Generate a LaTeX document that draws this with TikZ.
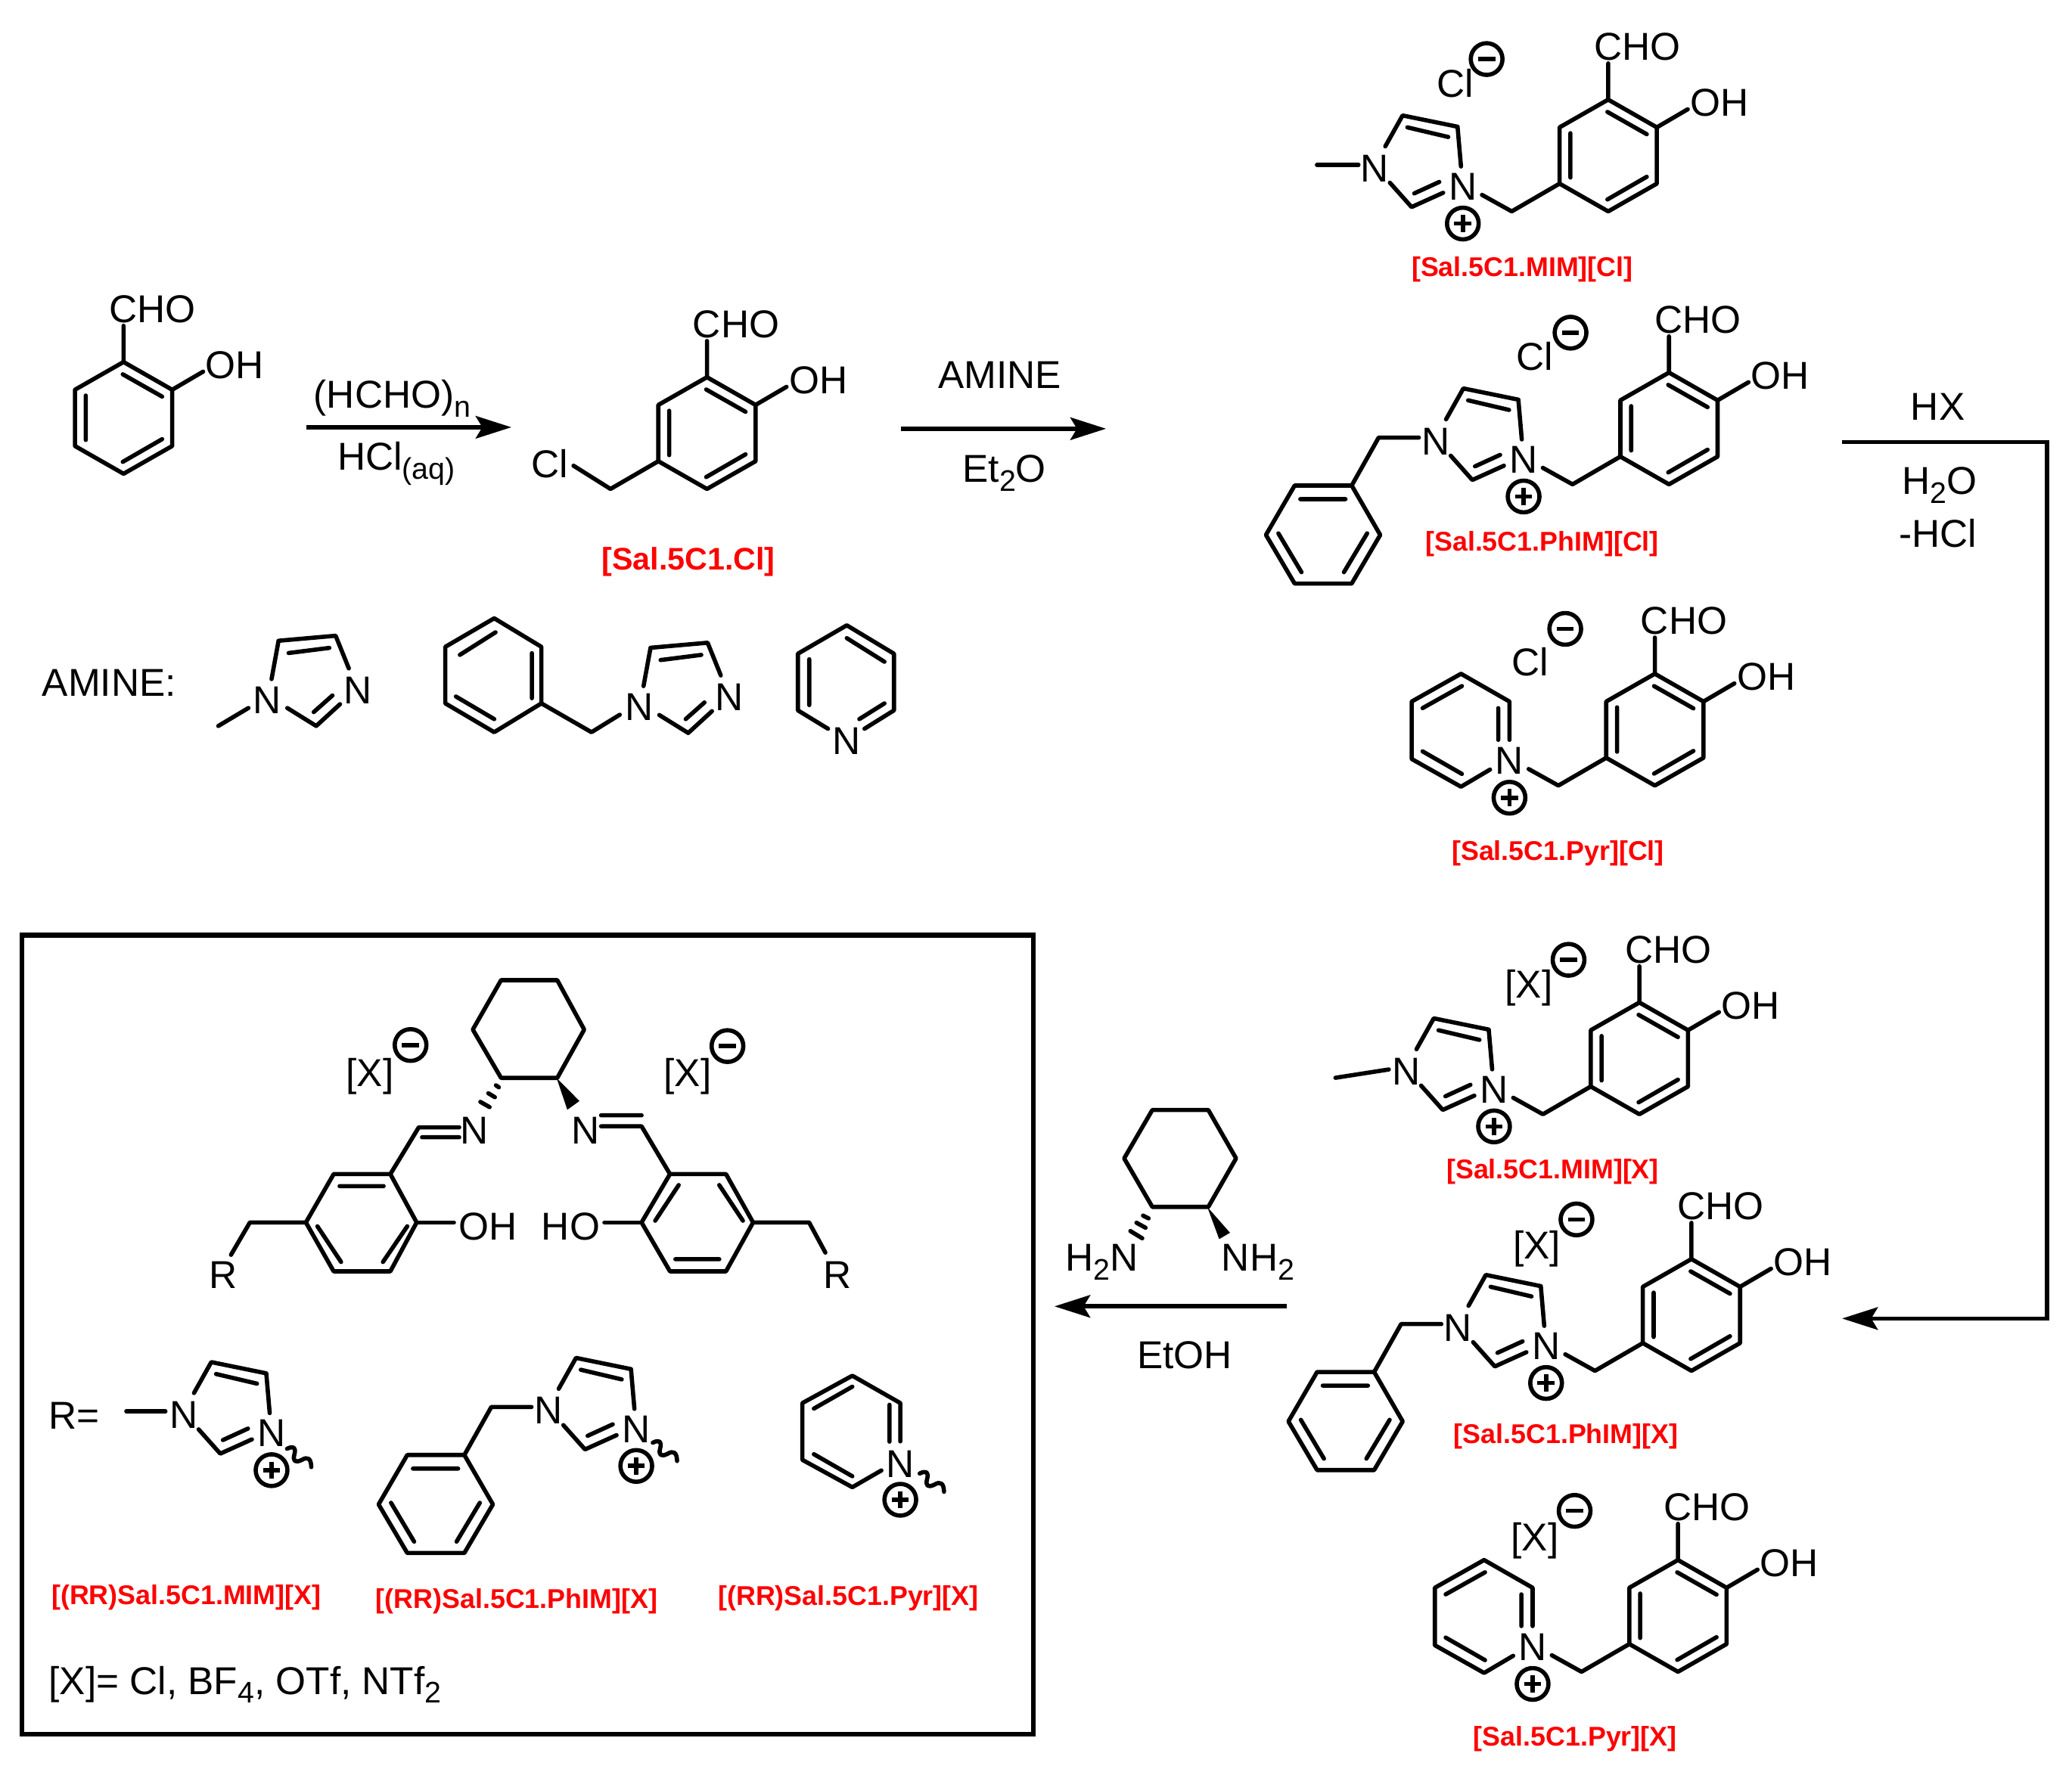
\documentclass[tikz,border=0pt]{standalone}
\usepackage{fontspec}
\setmainfont{Liberation Sans}
\usetikzlibrary{arrows.meta}
\newcounter{tn}
\tikzset{
  x=1pt,y=-1pt,
  bond/.style={line width=3.2pt,line cap=round,line join=round},
  atomlab/.style={inner sep=0pt,outer sep=0pt,font=\fontsize{29.4}{32}\selectfont},
  redlab/.style={inner sep=0pt,outer sep=0pt,text=red,font=\fontsize{20.5}{24}\selectfont\bfseries},
  reactline/.style={line width=3.2pt,-{Stealth[length=27pt,width=17pt,inset=5pt]}}
}
\newcommand\subt[1]{\raisebox{-6.7pt}{\fontsize{22.5}{24}\selectfont #1}}
\newcommand\txt[4][]{\stepcounter{tn}\node[atomlab,yshift=-1pt,#1] (t\arabic{tn}) at (#2,#3) {#4};}
\newcommand\rtxt[3]{\stepcounter{tn}\node[redlab,yshift=-2pt] (t\arabic{tn}) at (#1,#2) {#3};}
\newcommand\bltxt[3]{\stepcounter{tn}\node[atomlab,anchor=base west] (t\arabic{tn}) at (#1,#2) {#3};}
\newcommand\minusc[2]{\draw[bond] (#1,#2) circle[radius=12pt]; \draw[line width=3.2pt] (#1-6.5,#2) -- (#1+6.5,#2);}
\newcommand\plusc[2]{\draw[bond] (#1,#2) circle[radius=12pt]; \draw[line width=3.2pt] (#1-6.5,#2) -- (#1+6.5,#2) (#1,#2-6.5) -- (#1,#2+6.5);}
\newcommand\wig[2]{\draw[bond,shift={(#1,#2)},rotate=-37] (0,0) .. controls (2.5,-5) and (5,-5) .. (7,0) .. controls (9,5) and (11.5,5) .. (14,0) .. controls (16,-5) and (19,-5) .. (23,0);}
% salicylaldehyde unit; origin = ring top vertex
\newcommand\salring{%
  \draw[bond] (0,0)--(36.8,21)--(36.8,63.6)--(0,84.6)--(-36.8,63.6)--(-36.8,21)--cycle;
  \draw[bond] (-0.6,9.3)--(29.2,26.2) (-28.6,25.4)--(-28.6,59) (-0.6,75.6)--(29.2,58.4);
  \draw[bond] (0,0)--(0,-27.4) (36.8,21)--(60.2,7.3);
  \txt{22}{-41}{CHO}\txt{84.2}{1.4}{OH}}
\newcommand\ctwo{\draw[bond] (-36.8,63.6)--(-73,84.6)--(-95.5,72.1);}
% imidazolium; origin = same ring top vertex
\newcommand\imcat{%
  \txt{-176.6}{51}{N}\txt{-110}{65}{N}
  \draw[bond] (-168.7,35.4)--(-155.6,12)--(-114,20.5)--(-111.4,50.6);
  \draw[bond] (-124.9,70.5)--(-148.8,81.3)--(-165.2,62.9);
  \draw[bond] (-152,21)--(-121,28.3) (-146.8,71)--(-127.8,62.3);
  \plusc{-110}{93.8}}
\newcommand\benzyl{%
  \draw[bond] (-189.3,49.2)--(-219.7,49.2)--(-240.1,85.5);
  \draw[bond] (-240.1,85.5)--(-283.3,85.5)--(-305,122.9)--(-283.3,159.7)--(-240.1,159.7)--(-218.5,122.9)--cycle;
  \draw[bond] (-279,95.8)--(-244.8,95.8) (-295.6,121.7)--(-278.1,151.1) (-228.4,121.7)--(-246,151.1);}
\newcommand\pyrcat{%
  \txt{-110}{65}{N}
  \draw[bond] (-110,50)--(-110,21)--(-146.7,0)--(-184,21)--(-184,64.5)--(-146.7,85.5)--(-124.7,72.5);
  \draw[bond] (-118.5,26)--(-118.5,50) (-175.8,26)--(-146,9.3) (-175.8,58.7)--(-146,75.8);
  \plusc{-110}{93.8}}
\newcommand\neutim{%
  \txt{202.2}{529}{N}\txt{270.6}{521.4}{N}
  \draw[bond] (205.5,514)--(210.8,485)--(254,481.2)--(264,506);
  \draw[bond] (257.3,533)--(239.3,549.5)--(217.4,535.9);
  \draw[bond] (218.4,494.3)--(249.2,490.4) (237.4,539)--(251.6,526.4);}
\begin{document}
\begin{tikzpicture}
\path[use as bounding box,fill=white] (0,0) rectangle (1568,1339);

% starting material
\begin{scope}[shift={(93.5,274)}]\salring\end{scope}
% chloromethyl product
\begin{scope}[shift={(535,285.5)}]
  \salring
  \draw[bond] (-36.8,63.6)--(-73,84.6)--(-101,67);
  \txt{-119}{64.5}{Cl}
\end{scope}
\rtxt{521}{423.5}{{\fontsize{23.6}{26}\selectfont [Sal.5C1.Cl]}}

% reaction arrow 1
\coordinate (a1s) at (232,323.4); \coordinate (a1e) at (387,323.4);
\draw[reactline] (a1s) -- (a1e);
\bltxt{237.5}{309}{(HCHO)\subt{n}}
\bltxt{255.5}{356}{HCl\subt{(aq)}}
% reaction arrow 2
\coordinate (a2s) at (682,324.5); \coordinate (a2e) at (837,324.5);
\draw[reactline] (a2s) -- (a2e);
\bltxt{710}{294}{AMINE}
\bltxt{728.5}{365}{Et\subt{2}O}

% amines
\bltxt{32}{527}{AMINE:}
\draw[bond] (165.2,549.5)--(188,535.9);
\neutim
\begin{scope}[shift={(281.5,5.3)}]\neutim\end{scope}
\draw[bond] (374,468)--(409.7,489.6)--(409.7,532.4)--(374,554.2)--(337,532.4)--(337,489.6)--cycle;
\draw[bond] (348,495.7)--(375,478.6) (402.5,494.4)--(402.5,528.5) (345,527.2)--(374,544.3);
\draw[bond] (409.7,532.4)--(447.6,554.2)--(469,541);
\txt{640.8}{560}{N}
\draw[bond] (654.2,551.6)--(676.5,537.7)--(676.5,494.8)--(640.8,473.3)--(603.8,494.8)--(603.8,537.7)--(626.6,551.6);
\draw[bond] (640.8,483)--(669.3,500.9) (612.4,499)--(612.4,533.7) (650.3,544.3)--(669.3,532.4);

% right column, chloride salts
\begin{scope}[shift={(1217,75.4)}]
  \salring\ctwo\imcat
  \draw[bond] (-220.4,49.4)--(-189,49.4);
\end{scope}
\txt{1101}{62}{Cl}\minusc{1125}{44.7}
\rtxt{1152}{202}{[Sal.5C1.MIM][Cl]}

\begin{scope}[shift={(1263,282)}]
  \salring\ctwo\imcat\benzyl
\end{scope}
\txt{1161.3}{268.7}{Cl}\minusc{1188.5}{251.8}
\rtxt{1167}{410}{[Sal.5C1.PhIM][Cl]}

\begin{scope}[shift={(1252.3,510)}]
  \salring\ctwo\pyrcat
\end{scope}
\txt{1158}{500}{Cl}\minusc{1184.5}{476}
\rtxt{1179}{644}{[Sal.5C1.Pyr][Cl]}

% right column, X salts
\begin{scope}[shift={(1240.6,758.8)}]
  \salring\ctwo\imcat
  \draw[bond] (-230,57)--(-189.6,50.7);
\end{scope}
\txt{1157}{747}{[X]}\minusc{1187}{726.5}
\rtxt{1175}{885}{[Sal.5C1.MIM][X]}

\begin{scope}[shift={(1280,953)}]
  \salring\ctwo\imcat\benzyl
\end{scope}
\txt{1163}{944}{[X]}\minusc{1193}{923}
\rtxt{1185}{1085}{[Sal.5C1.PhIM][X]}

\begin{scope}[shift={(1269.8,1180.8)}]
  \salring\ctwo\pyrcat
\end{scope}
\txt{1161.5}{1165}{[X]}\minusc{1191.6}{1143.6}
\rtxt{1192}{1314}{[Sal.5C1.Pyr][X]}

% HX step
\coordinate (h1) at (1394,334.5); \coordinate (h2) at (1549,334.5);
\coordinate (h3) at (1549,998); \coordinate (h4) at (1394,998);
\draw[reactline,line join=miter] (h1) -- (h2) -- (h3) -- (h4);
\bltxt{1446}{318}{HX}
\bltxt{1439.5}{374}{H\subt{2}O}
\bltxt{1437}{414}{-HCl}

% diamine
\draw[bond] (872,840.2)--(914.4,840.2)--(935.4,876.8)--(914.4,913.5)--(872,913.5)--(850.7,876.8)--cycle;
\draw[bond] (865,920.1)--(869.2,922.2) (860,925.5)--(866.9,929.3) (855.4,931.8)--(864.4,937.3);
\fill (913.6,913.5)--(930.8,933.1)--(922.6,937.9)--cycle;
\bltxt{806.5}{962}{H\subt{2}N}
\bltxt{924.5}{962}{NH\subt{2}}
\coordinate (e1) at (973.5,988.8); \coordinate (e2) at (798,988.8);
\draw[reactline] (e1) -- (e2);
\bltxt{860.5}{1036}{EtOH}

% product box
\draw[line width=3.6pt] (16.4,707.8) rectangle (782,1312.8);
\draw[bond] (379.2,741.9)--(421.7,741.9)--(442.1,779.3)--(421.7,815.9)--(379.2,815.9)--(357.8,779.3)--cycle;
\draw[bond] (375.3,821.5)--(377.5,823) (369.5,827.5)--(374.5,830.5) (363.5,834)--(370.5,838);
\fill (421.2,815.9)--(438.5,833.4)--(429.3,840)--cycle;
\txt{358.8}{854.6}{N}\txt{443.1}{854.6}{N}
\draw[bond] (347.5,853.3)--(316.9,853.3)--(295.4,888.7) (347.5,860.8)--(319.4,860.8);
\draw[bond] (454.9,852.5)--(485.5,852.5)--(507,888.7) (454.9,844.2)--(485.5,844.2);
% left aryl
\draw[bond] (295.4,888.7)--(315.3,925.3)--(295.4,962.3)--(252.5,962.3)--(231.5,925.3)--(252.5,888.7)--cycle;
\draw[bond] (257,897.8)--(290.3,897.8) (240.2,928.2)--(258.1,955.2) (308.2,928.2)--(289.8,955.2);
\draw[bond] (315.3,925.3)--(343.5,925.3);
\txt{369}{927.3}{OH}
\draw[bond] (231.5,925.3)--(189.1,925.3)--(174.8,949.8);
\txt{168.7}{964.3}{R}
% right aryl
\draw[bond] (507,888.7)--(485.5,925.3)--(507,962.3)--(549.4,962.3)--(569.9,925.3)--(549.4,888.7)--cycle;
\draw[bond] (495.8,924)--(513.6,897) (544.3,897)--(562.2,924) (511.1,953.1)--(544.3,953.1);
\draw[bond] (485.5,925.3)--(457.4,925.3);
\txt{431.9}{927.3}{HO}
\draw[bond] (569.9,925.3)--(612.3,925.3)--(624.6,948.1);
\txt{633.8}{964.3}{R}
\txt{280}{813.8}{[X]}\minusc{310.7}{791}
\txt{520.3}{813.8}{[X]}\minusc{550.5}{791.8}

% R groups
\txt[anchor=west]{37}{1070.4}{R=}
\begin{scope}[shift={(315.5,1019)}]
  \imcat
  \draw[bond] (-219.9,49.3)--(-190.3,49.3);
\end{scope}
\wig{217.2}{1096.6}
\begin{scope}[shift={(591.5,1015.8)}]
  \imcat\benzyl
\end{scope}
\wig{494}{1092}
% pyridinium
\txt{681.3}{1107}{N}
\draw[bond] (681.3,1091)--(681.3,1062)--(645,1041.3)--(607.2,1062)--(607.2,1105)--(645,1125.7)--(667,1113);
\draw[bond] (673.1,1063.3)--(673.1,1091.2) (615.9,1066.2)--(645,1049.6) (615.9,1100.7)--(645,1117.4);
\plusc{681.3}{1135.2}
\wig{696}{1115.3}

\rtxt{141}{1207}{[(RR)Sal.5C1.MIM][X]}
\rtxt{391}{1210}{[(RR)Sal.5C1.PhIM][X]}
\rtxt{642}{1208}{[(RR)Sal.5C1.Pyr][X]}
\bltxt{37}{1282.4}{[X]= Cl, BF\subt{4}, OTf, NTf\subt{2}}
\end{tikzpicture}
\end{document}
